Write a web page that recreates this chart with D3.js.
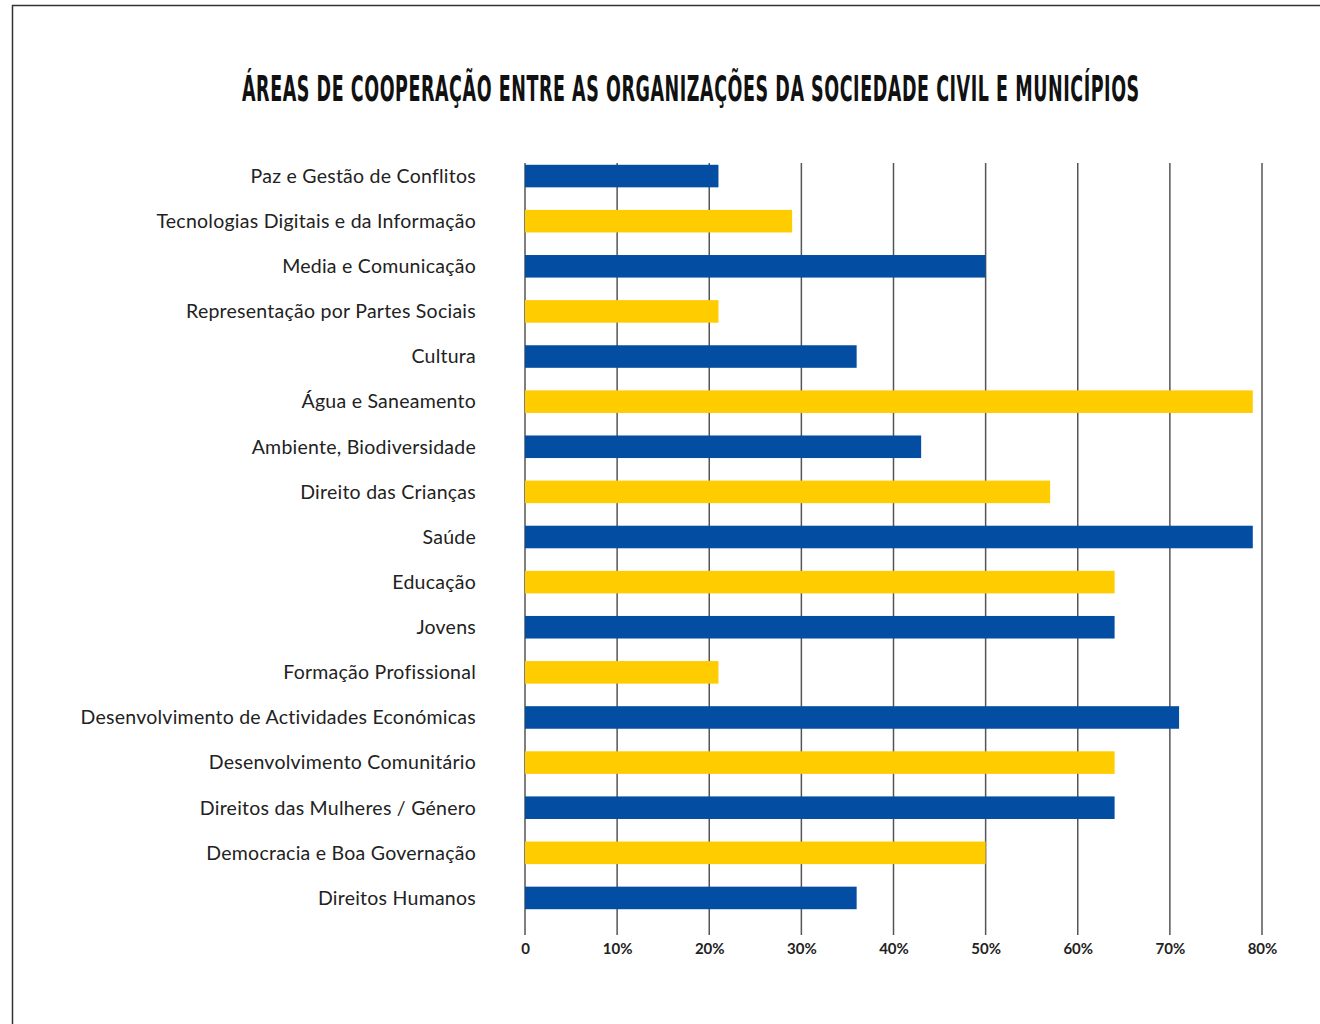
<!DOCTYPE html>
<html><head><meta charset="utf-8">
<script src="https://cdn.jsdelivr.net/npm/d3@7"></script>
<style>html,body{margin:0;padding:0;background:#fff;}svg{display:block;}</style>
</head><body>
<svg id="c" width="1320" height="1024"></svg>
<script>
const categories = [
  "Paz e Gestão de Conflitos",
  "Tecnologias Digitais e da Informação",
  "Media e Comunicação",
  "Representação por Partes Sociais",
  "Cultura",
  "Água e Saneamento",
  "Ambiente, Biodiversidade",
  "Direito das Crianças",
  "Saúde",
  "Educação",
  "Jovens",
  "Formação Profissional",
  "Desenvolvimento de Actividades Económicas",
  "Desenvolvimento Comunitário",
  "Direitos das Mulheres / Género",
  "Democracia e Boa Governação",
  "Direitos Humanos"
];
const values = [21, 29, 50, 21, 36, 79, 43, 57, 79, 64, 64, 21, 71, 64, 64, 50, 36];
const tickValues = [0, 10, 20, 30, 40, 50, 60, 70, 80];
const tickLabels = ["0", "10%", "20%", "30%", "40%", "50%", "60%", "70%", "80%"];
const title = "ÁREAS DE COOPERAÇÃO ENTRE AS ORGANIZAÇÕES DA SOCIEDADE CIVIL E MUNICÍPIOS";
const colors = ["#034ea2", "#ffcc00"];

const svg = d3.select("#c");
// frame
svg.append("path").attr("d", "M12.5,1024 L12.5,5.5 L1320,5.5")
  .attr("fill", "none").attr("stroke", "#333").attr("stroke-width", 1.5);

// title, horizontally compressed to fit the reference width
const tg = svg.append("g");
const tt = tg.append("text").attr("x", 0).attr("y", 0)
  .attr("font-family", "DejaVu Sans Condensed, DejaVu Sans").attr("font-weight", "bold")
  .attr("font-size", 36).attr("letter-spacing", 1)
  .attr("fill", "#111").text(title);
const natW = tt.node().getComputedTextLength();
const sx = 898 / natW;
tg.attr("transform", `translate(242,101) scale(${sx},1)`);

const x = d3.scaleLinear().domain([0, 80]).range([525, 1262]);
const y = d3.scaleBand().domain(categories).range([153.5, 920.5]).paddingInner(0.5).paddingOuter(0.25);

// gridlines
svg.append("g").selectAll("line").data(tickValues).join("line")
  .attr("x1", d => x(d)).attr("x2", d => x(d)).attr("y1", 163).attr("y2", 935)
  .attr("stroke", "#555").attr("stroke-width", 1.5);

// bars
svg.append("g").selectAll("rect").data(values).join("rect")
  .attr("x", x(0)).attr("y", (d, i) => y(categories[i]))
  .attr("width", d => x(d) - x(0)).attr("height", y.bandwidth())
  .attr("fill", (d, i) => colors[i % 2]);

// category labels
svg.append("g").selectAll("text").data(categories).join("text")
  .attr("x", 476).attr("y", d => y(d) + y.bandwidth() / 2).attr("dy", "0.35em")
  .attr("text-anchor", "end").attr("font-family", "Lato, 'Open Sans', sans-serif")
  .attr("font-size", 19.5).attr("letter-spacing", 0.25).attr("fill", "#222").text(d => d);

// axis tick labels
const xAxis = d3.axisBottom(x).tickValues(tickValues).tickFormat((d, i) => tickLabels[i]).tickSize(0).tickPadding(0);
const ag = svg.append("g").attr("transform", "translate(0,943)").call(xAxis);
ag.select(".domain").remove();
ag.selectAll("text").attr("font-family", "Lato, sans-serif").attr("font-weight", "bold")
  .attr("font-size", 15).attr("fill", "#222");
</script>
</body></html>
